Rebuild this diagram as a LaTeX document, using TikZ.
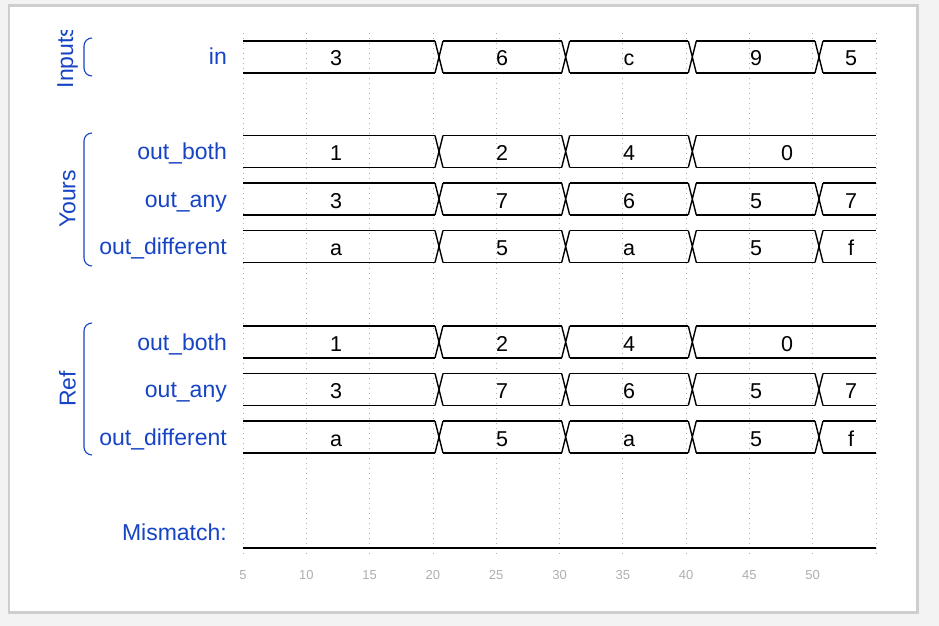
\documentclass[tikz,border=0pt]{standalone}
\usepackage{fontspec}
\setmainfont{Liberation Sans}
\usetikzlibrary{positioning}

\definecolor{sigblue}{RGB}{22,68,196}
\definecolor{panelgray}{RGB}{243,243,243}
\definecolor{framegray}{RGB}{206,206,206}
\definecolor{tickgray}{RGB}{175,175,175}

% one bus row: #1 name, #2 middle y, #3 changes, #4 segments a/b/value/x
\newcommand{\busrow}[4]{%
  \foreach \a/\b/\v/\lx [count=\i] in {#4} {
    \draw[bus] (\a+4,#2-16) -- (\b-4,#2-16) (\a+4,#2+16) -- (\b-4,#2+16);
    \node[val] (#1\i) at (\lx,#2+9) {\v};
  }
  \foreach \c in {#3}
    \draw[bus] (\c-4,#2-16) -- (\c+4,#2+16) (\c-4,#2+16) -- (\c+4,#2-16);
}

\begin{document}
\begin{tikzpicture}[x=1pt, y=-1pt,
    bus/.style={draw=black, line width=1.4pt},
    val/.style={anchor=base, inner sep=0pt, font=\fontsize{21.5}{25}\selectfont},
    sig/.style={anchor=base east, inner sep=0pt, text=sigblue, font=\fontsize{23}{27}\selectfont},
    grp/.style={rotate=90, inner sep=0pt, text=sigblue, font=\fontsize{23}{27}\selectfont},
    brace/.style={draw=sigblue, line width=1.1pt, rounded corners=8pt},
    grid/.style={draw=tickgray, line width=0.8pt, dash pattern=on 1pt off 4pt},
    tick/.style={inner sep=0pt, text=tickgray, font=\fontsize{13}{15}\selectfont}]

  \useasboundingbox[fill=panelgray] (0,0) rectangle (939,626);
  \draw[framegray, line width=2.5pt, fill=white] (9,5.5) rectangle (917.5,612.5);

  % time grid
  \foreach \n [count=\i from 0] in {5,10,...,55}
    \draw[grid] (243+63.3*\i,33) -- (243+63.3*\i,555);
  \foreach \n [count=\i from 0] in {5,10,...,50}
    \node[tick] (t\n) at (243+63.3*\i,575) {\n};

  % groups
  \begin{scope}
    \clip (0,31) rectangle (200,120);
    \node[grp] (ginputs) at (67.5,57) {Inputs};
  \end{scope}
  \node[grp] (gyours) at (67.5,199) {Yours};
  \node[grp] (gref) at (67.5,389) {Ref};
  \draw[brace] (92,38) -- (84,38) -- (84,76) -- (92,76);
  \draw[brace] (92,133) -- (84,133) -- (84,266) -- (92,266);
  \draw[brace] (92,323) -- (84,323) -- (84,455) -- (92,455);

  % signal names
  \node[sig] (lin) at (227,65) {in};
  \node[sig] (lyboth) at (227,159.5) {out\_both};
  \node[sig] (lyany) at (227,207) {out\_any};
  \node[sig] (lydiff) at (227,254.5) {out\_different};
  \node[sig] (lrboth) at (227,350) {out\_both};
  \node[sig] (lrany) at (227,397.5) {out\_any};
  \node[sig] (lrdiff) at (227,445) {out\_different};
  \node[sig] (lmis) at (227,540) {Mismatch:};

  % waves
  \busrow{in}{57}{439,565.7,692.3,819}{239/439/3/336, 439/565.7/6/502, 565.7/692.3/c/629, 692.3/819/9/756, 819/880/5/851}
  \busrow{yboth}{151.5}{439,565.7,692.3}{239/439/1/336, 439/565.7/2/502, 565.7/692.3/4/629, 692.3/880/0/787}
  \busrow{yany}{199}{439,565.7,692.3,819}{239/439/3/336, 439/565.7/7/502, 565.7/692.3/6/629, 692.3/819/5/756, 819/880/7/851}
  \busrow{ydiff}{246.5}{439,565.7,692.3,819}{239/439/a/336, 439/565.7/5/502, 565.7/692.3/a/629, 692.3/819/5/756, 819/880/f/851}
  \busrow{rboth}{342}{439,565.7,692.3}{239/439/1/336, 439/565.7/2/502, 565.7/692.3/4/629, 692.3/880/0/787}
  \busrow{rany}{389.5}{439,565.7,692.3,819}{239/439/3/336, 439/565.7/7/502, 565.7/692.3/6/629, 692.3/819/5/756, 819/880/7/851}
  \busrow{rdiff}{437}{439,565.7,692.3,819}{239/439/a/336, 439/565.7/5/502, 565.7/692.3/a/629, 692.3/819/5/756, 819/880/f/851}
  \draw[line width=2pt] (243,548) -- (876,548);

\end{tikzpicture}
\end{document}
